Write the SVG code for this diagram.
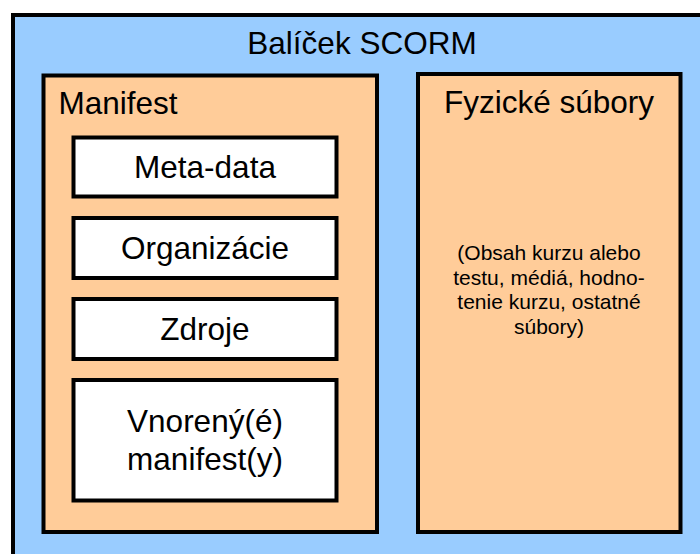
<svg xmlns="http://www.w3.org/2000/svg" width="700" height="554" viewBox="0 0 700 554">
<style>
.frame{stroke:#000;stroke-width:4}
.blue{fill:#99CCFF}
.orange{fill:#FFCC99}
.white{fill:#FFFFFF}
text{font-family:"Liberation Sans",Arial,sans-serif;fill:#000}
.big{font-size:31.5px}
.small{font-size:21px}
.c{text-anchor:middle}
</style>
<rect width="700" height="554" fill="#FFFFFF"/>
<g id="package">
<rect class="frame blue" x="13" y="15" width="710" height="570"/>
<text class="big c" x="362" y="54">Balíček SCORM</text>
</g>
<g id="manifest">
<rect class="frame orange" x="43.5" y="75.5" width="333.5" height="456.5"/>
<text class="big" x="58.5" y="114">Manifest</text>
</g>
<g id="meta-data">
<rect class="frame white" x="73.5" y="137.5" width="263" height="59"/>
<text class="big c" x="205" y="178">Meta-data</text>
</g>
<g id="organizacie">
<rect class="frame white" x="73.5" y="218" width="263" height="60"/>
<text class="big c" x="205" y="259">Organizácie</text>
</g>
<g id="zdroje">
<rect class="frame white" x="73.5" y="299" width="263" height="60"/>
<text class="big c" x="205" y="340">Zdroje</text>
</g>
<g id="vnoreny">
<rect class="frame white" x="73.5" y="380" width="263" height="120.5"/>
<text class="big c" x="205" y="432">Vnorený(é)</text>
<text class="big c" x="205" y="470">manifest(y)</text>
</g>
<g id="fyzicke">
<rect class="frame orange" x="418" y="74" width="262.5" height="458"/>
<text class="big c" x="549" y="113">Fyzické súbory</text>
<text class="small c" x="549" y="260">(Obsah kurzu alebo</text>
<text class="small c" x="549" y="284.5">testu, médiá, hodno-</text>
<text class="small c" x="549" y="309">tenie kurzu, ostatné</text>
<text class="small c" x="549" y="333.5">súbory)</text>
</g>
<g id="connectors"></g>
</svg>
